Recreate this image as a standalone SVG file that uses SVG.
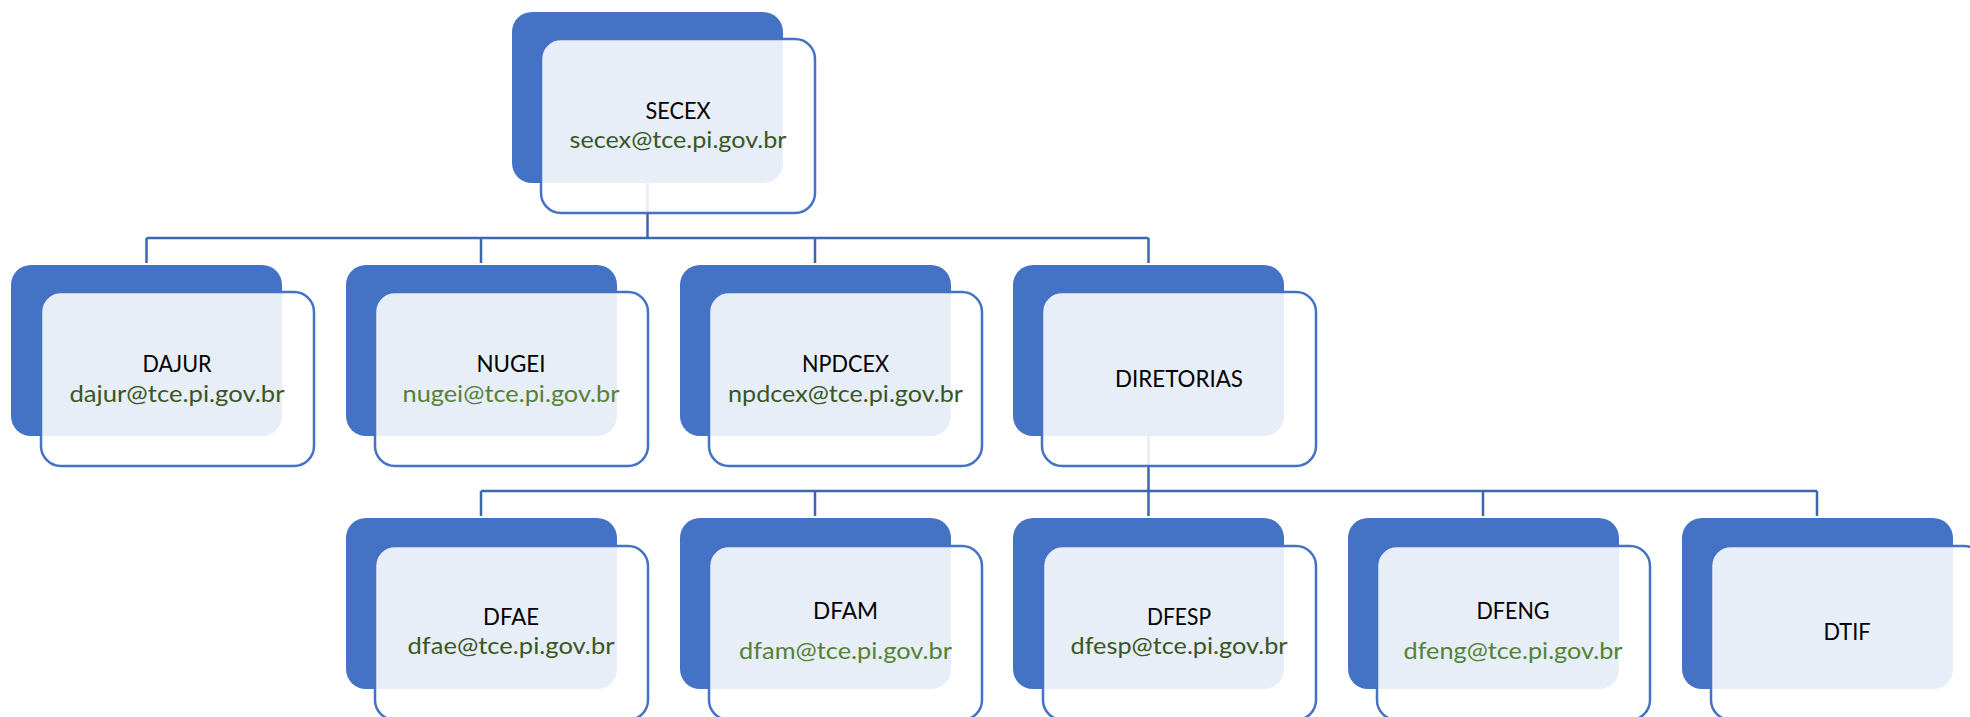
<svg xmlns="http://www.w3.org/2000/svg" width="1970" height="717" viewBox="0 0 1970 717">
<defs>
<style>
.back{fill:#4472c4}
.front{fill:#ffffff;fill-opacity:0.88;stroke:#4472c4;stroke-width:2.5}
.conn{fill:none;stroke:#3d66b0;stroke-width:2.5}
.t{font-family:Lato,"Liberation Sans",sans-serif;font-size:23.5px;fill:#000;text-anchor:middle}
.ed{font-family:Lato,"Liberation Sans",sans-serif;font-size:23.5px;fill:#385723;text-anchor:middle}
.el{font-family:Lato,"Liberation Sans",sans-serif;font-size:23.5px;fill:#548235;text-anchor:middle}
</style>
</defs>
<rect x="0" y="0" width="1970" height="717" fill="#ffffff"/>
<g id="connectors">
<path class="conn" d="M647.5 183V238M146.5 238H1148.5M146.5 238V263M481 238V263M815 238V263M1148.5 238V263"/>
<path class="conn" d="M1148.5 436V516M481 491H1817M481 491V516M815 491V516M1483 491V516M1817 491V516"/>
</g>
<g id="secex">
<rect class="back" x="512" y="12" width="271" height="171" rx="20"/>
<rect class="front" x="541" y="39" width="274" height="174" rx="20"/>
<text class="t" x="678" y="119" textLength="65" lengthAdjust="spacingAndGlyphs">SECEX</text>
<text class="ed" x="678" y="148" textLength="217" lengthAdjust="spacingAndGlyphs">secex@tce.pi.gov.br</text>
</g>
<g id="dajur">
<rect class="back" x="11" y="265" width="271" height="171" rx="20"/>
<rect class="front" x="41" y="292" width="273" height="174" rx="20"/>
<text class="t" x="177" y="372" textLength="69" lengthAdjust="spacingAndGlyphs">DAJUR</text>
<text class="ed" x="177" y="402" textLength="215" lengthAdjust="spacingAndGlyphs">dajur@tce.pi.gov.br</text>
</g>
<g id="nugei">
<rect class="back" x="346" y="265" width="271" height="171" rx="20"/>
<rect class="front" x="375" y="292" width="273" height="174" rx="20"/>
<text class="t" x="511" y="372" textLength="69" lengthAdjust="spacingAndGlyphs">NUGEI</text>
<text class="el" x="511" y="402" textLength="217" lengthAdjust="spacingAndGlyphs">nugei@tce.pi.gov.br</text>
</g>
<g id="npdcex">
<rect class="back" x="680" y="265" width="271" height="171" rx="20"/>
<rect class="front" x="709" y="292" width="273" height="174" rx="20"/>
<text class="t" x="845.5" y="372" textLength="87" lengthAdjust="spacingAndGlyphs">NPDCEX</text>
<text class="ed" x="845.5" y="402" textLength="235" lengthAdjust="spacingAndGlyphs">npdcex@tce.pi.gov.br</text>
</g>
<g id="diretorias">
<rect class="back" x="1013" y="265" width="271" height="171" rx="20"/>
<rect class="front" x="1042" y="292" width="274" height="174" rx="20"/>
<text class="t" x="1179" y="387" textLength="128" lengthAdjust="spacingAndGlyphs">DIRETORIAS</text>
</g>
<g id="dfae">
<rect class="back" x="346" y="518" width="271" height="171" rx="20"/>
<rect class="front" x="375" y="546" width="273" height="174" rx="20"/>
<text class="t" x="511" y="625" textLength="56" lengthAdjust="spacingAndGlyphs">DFAE</text>
<text class="ed" x="511" y="654" textLength="207" lengthAdjust="spacingAndGlyphs">dfae@tce.pi.gov.br</text>
</g>
<g id="dfam">
<rect class="back" x="680" y="518" width="271" height="171" rx="20"/>
<rect class="front" x="709" y="546" width="273" height="174" rx="20"/>
<text class="t" x="845.5" y="619" textLength="65" lengthAdjust="spacingAndGlyphs">DFAM</text>
<text class="el" x="845.5" y="659" textLength="213" lengthAdjust="spacingAndGlyphs">dfam@tce.pi.gov.br</text>
</g>
<g id="dfesp">
<rect class="back" x="1013" y="518" width="271" height="171" rx="20"/>
<rect class="front" x="1043" y="546" width="273" height="174" rx="20"/>
<text class="t" x="1179" y="625" textLength="64" lengthAdjust="spacingAndGlyphs">DFESP</text>
<text class="ed" x="1179" y="654" textLength="217" lengthAdjust="spacingAndGlyphs">dfesp@tce.pi.gov.br</text>
</g>
<g id="dfeng">
<rect class="back" x="1348" y="518" width="271" height="171" rx="20"/>
<rect class="front" x="1377" y="546" width="273" height="174" rx="20"/>
<text class="t" x="1513" y="619" textLength="73" lengthAdjust="spacingAndGlyphs">DFENG</text>
<text class="el" x="1513" y="659" textLength="219" lengthAdjust="spacingAndGlyphs">dfeng@tce.pi.gov.br</text>
</g>
<g id="dtif">
<rect class="back" x="1682" y="518" width="271" height="171" rx="20"/>
<rect class="front" x="1711" y="546" width="273" height="174" rx="20"/>
<text class="t" x="1847" y="640" textLength="47" lengthAdjust="spacingAndGlyphs">DTIF</text>
</g>
</svg>
